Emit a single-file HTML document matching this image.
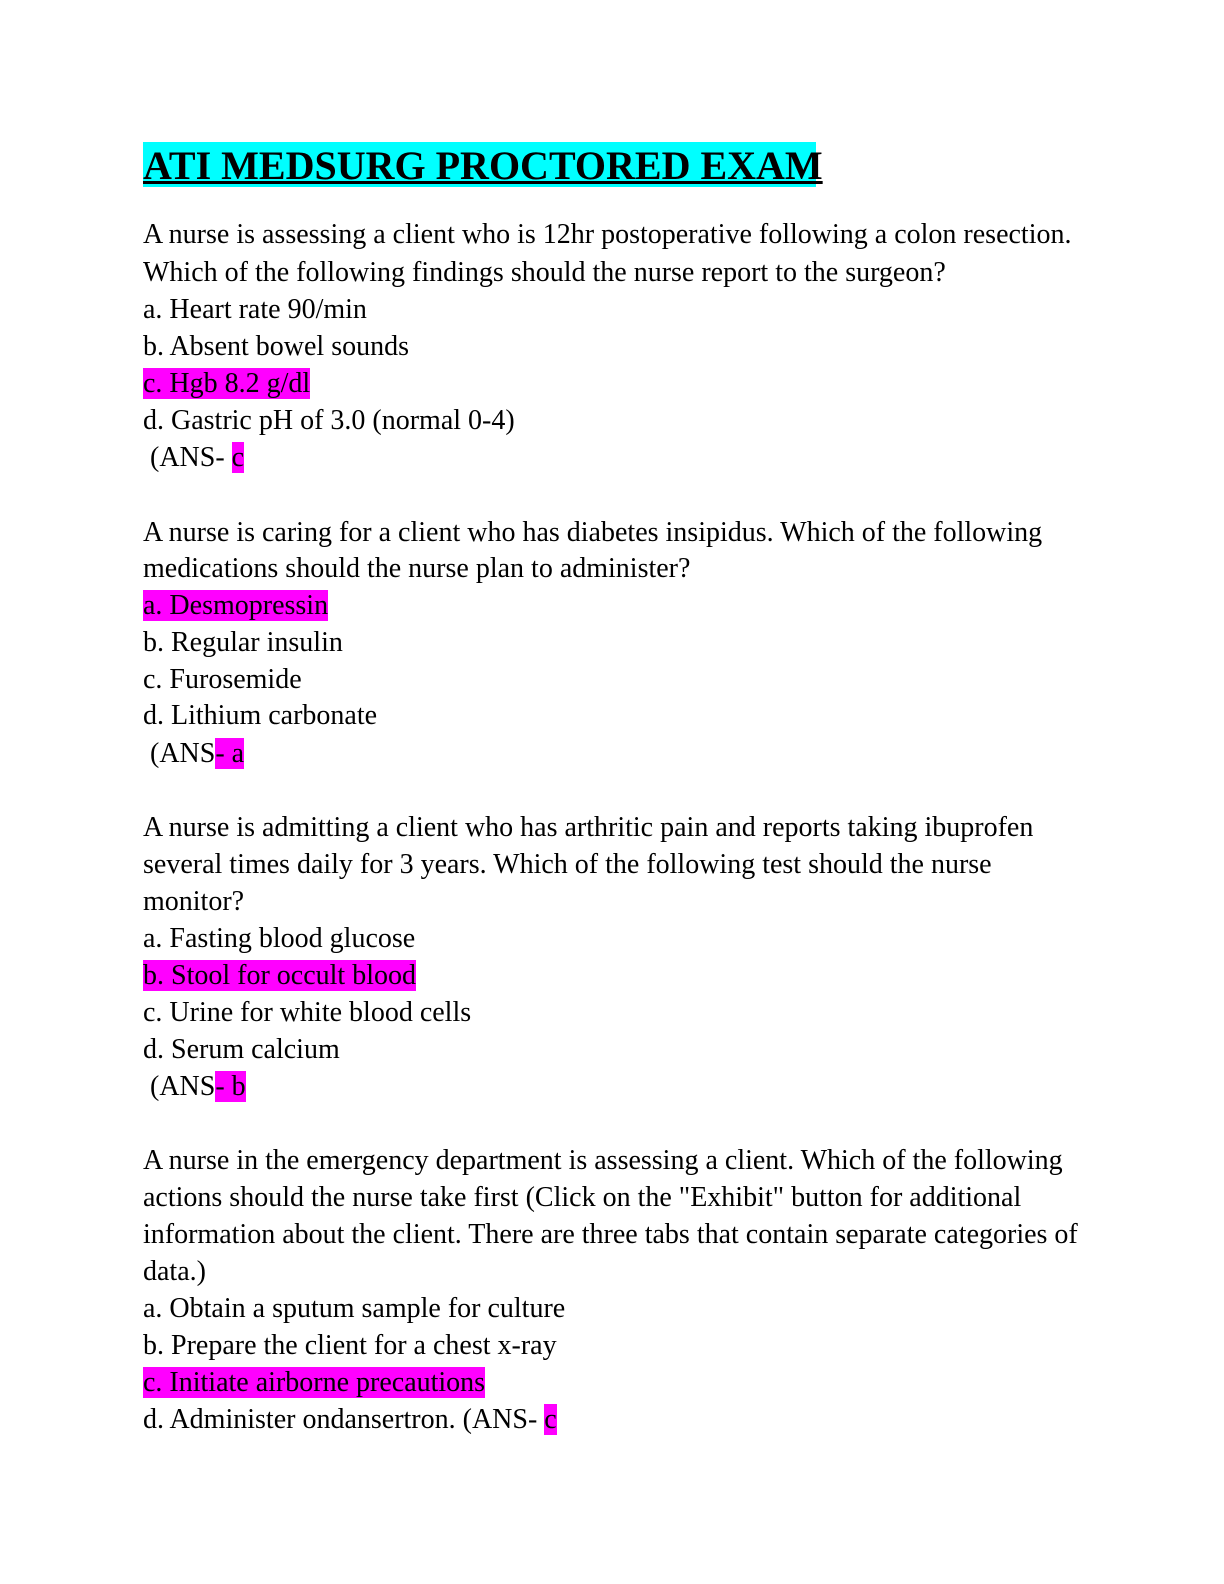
<!DOCTYPE html>
<html><head><meta charset="utf-8"><style>
body{margin:0;width:1224px;height:1584px;background:#fff;position:relative;font-family:"Liberation Serif",serif;color:#000}
.l{position:absolute;left:143px;font-size:28px;line-height:36px;white-space:nowrap}
.h{background:#ff00ff}
.t{position:absolute;left:143px;top:142px;height:45px;width:673px;background:#00ffff;font-weight:bold;font-size:40px;line-height:47px;text-decoration:underline;text-decoration-thickness:3px;white-space:nowrap}
</style></head><body>
<div class="t">ATI MEDSURG PROCTORED EXAM</div>
<div class="l" style="top:217px">A nurse is assessing a client who is 12hr postoperative following a colon resection.</div>
<div class="l" style="top:255px">Which of the following findings should the nurse report to the surgeon?</div>
<div class="l" style="top:292px">a. Heart rate 90/min</div>
<div class="l" style="top:329px">b. Absent bowel sounds</div>
<div class="l" style="top:366px"><span class="h">c. Hgb 8.2 g/dl</span></div>
<div class="l" style="top:403px">d. Gastric pH of 3.0 (normal 0-4)</div>
<div class="l" style="top:440px">&nbsp;(ANS- <span class="h">c</span></div>
<div class="l" style="top:515px">A nurse is caring for a client who has diabetes insipidus. Which of the following</div>
<div class="l" style="top:551px">medications should the nurse plan to administer?</div>
<div class="l" style="top:588px"><span class="h">a. Desmopressin</span></div>
<div class="l" style="top:625px">b. Regular insulin</div>
<div class="l" style="top:662px">c. Furosemide</div>
<div class="l" style="top:698px">d. Lithium carbonate</div>
<div class="l" style="top:736px">&nbsp;(ANS<span class="h">- a</span></div>
<div class="l" style="top:810px">A nurse is admitting a client who has arthritic pain and reports taking ibuprofen</div>
<div class="l" style="top:847px">several times daily for 3 years. Which of the following test should the nurse</div>
<div class="l" style="top:884px">monitor?</div>
<div class="l" style="top:921px">a. Fasting blood glucose</div>
<div class="l" style="top:958px"><span class="h">b. Stool for occult blood</span></div>
<div class="l" style="top:995px">c. Urine for white blood cells</div>
<div class="l" style="top:1032px">d. Serum calcium</div>
<div class="l" style="top:1069px">&nbsp;(ANS<span class="h">- b</span></div>
<div class="l" style="top:1143px">A nurse in the emergency department is assessing a client. Which of the following</div>
<div class="l" style="top:1180px">actions should the nurse take first (Click on the "Exhibit" button for additional</div>
<div class="l" style="top:1217px">information about the client. There are three tabs that contain separate categories of</div>
<div class="l" style="top:1254px">data.)</div>
<div class="l" style="top:1291px">a. Obtain a sputum sample for culture</div>
<div class="l" style="top:1328px">b. Prepare the client for a chest x-ray</div>
<div class="l" style="top:1365px"><span class="h">c. Initiate airborne precautions</span></div>
<div class="l" style="top:1402px">d. Administer ondansertron. (ANS- <span class="h">c</span></div>
</body></html>
